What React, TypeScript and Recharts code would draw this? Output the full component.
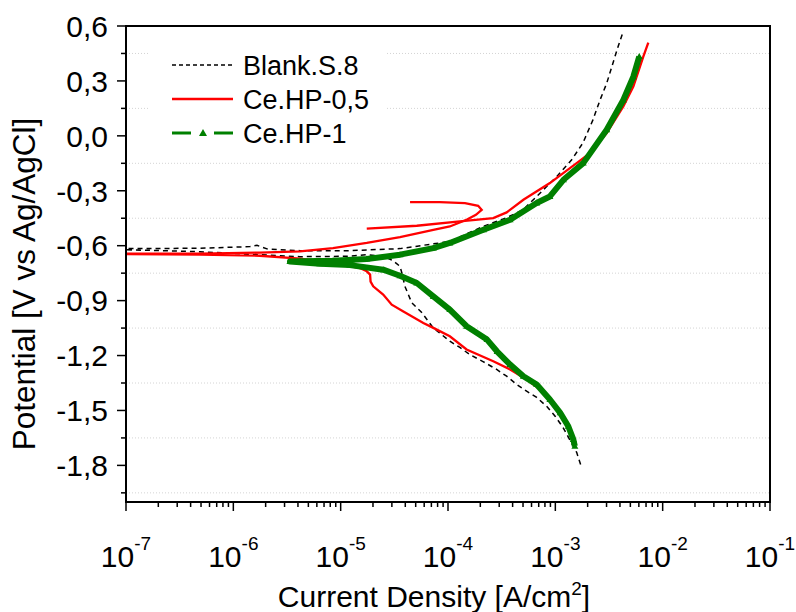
import React from 'react';
import { LineChart, Line, XAxis, YAxis, ReferenceLine, ReferenceArea, Legend, Label } from 'recharts';

const FONT = "Arial, 'Liberation Sans', Helvetica, sans-serif";

// Series names / colors
const seriesNames = ['Blank.S.8', 'Ce.HP-0,5', 'Ce.HP-1'];
const seriesColors = ['#000000', '#ff0000', '#008000'];

// Blank.S.8 (current density A/cm2, potential V)
const blankCurrent = [1.72e-3, 1.58e-3, 1.18e-3, 1.0e-3, 8.3e-4, 6.7e-4, 5.4e-4, 4.37e-4, 3.52e-4, 2.84e-4, 2.12e-4, 1.6e-4, 1.29e-4, 1.04e-4, 7.24e-5, 5.69e-5, 4.59e-5, 3.97e-5, 3.71e-5, 3.57e-5, 3.08e-5, 2.48e-5, 1.75e-5, 1.14e-5, 4.18e-6, 2.72e-6, 4.89e-7, 1.0e-7, 1.02e-7, 4.89e-7, 1.43e-6, 1.66e-6, 2.1e-6, 4.18e-6, 1.22e-5, 3.57e-5, 1.04e-4, 2.12e-4, 3.52e-4, 5.0e-4, 6.7e-4, 1.03e-3, 1.42e-3, 1.81e-3, 2.24e-3, 2.61e-3, 3.01e-3, 3.44e-3, 3.84e-3, 4.25e-3];
const blankPotential = [-1.795, -1.729, -1.593, -1.533, -1.477, -1.429, -1.395, -1.358, -1.313, -1.276, -1.233, -1.195, -1.156, -1.122, -1.047, -0.965, -0.911, -0.822, -0.747, -0.713, -0.682, -0.657, -0.649, -0.658, -0.66, -0.655, -0.633, -0.622, -0.616, -0.614, -0.605, -0.598, -0.619, -0.627, -0.627, -0.616, -0.577, -0.495, -0.447, -0.404, -0.331, -0.222, -0.131, -0.038, 0.087, 0.196, 0.287, 0.397, 0.487, 0.563];

// Ce.HP-0,5 first scan part (cathodic + anodic loop)
const redCurrent = [1.56e-3, 1.31e-3, 1.11e-3, 9.5e-4, 7.2e-4, 5.4e-4, 3.79e-4, 2.64e-4, 1.49e-4, 1.04e-4, 7.3e-5, 5.89e-5, 3.84e-5, 2.99e-5, 2.49e-5, 2.01e-5, 1.9e-5, 1.88e-5, 1.75e-5, 1.51e-5, 8.5e-6, 4.18e-6, 1.77e-6, 4.89e-7, 1.0e-7, 1.02e-7, 4.89e-7, 1.77e-6, 4.18e-6, 8.48e-6, 1.75e-5, 3.57e-5, 7.3e-5, 1.04e-4, 1.49e-4, 1.82e-4, 2.06e-4, 1.91e-4, 1.44e-4, 8.4e-5, 4.43e-5];
const redPotential = [-1.685, -1.587, -1.511, -1.467, -1.385, -1.331, -1.276, -1.231, -1.167, -1.095, -1.049, -1.022, -0.96, -0.922, -0.867, -0.822, -0.796, -0.758, -0.74, -0.722, -0.694, -0.671, -0.655, -0.649, -0.646, -0.644, -0.644, -0.638, -0.631, -0.613, -0.585, -0.553, -0.513, -0.495, -0.458, -0.431, -0.404, -0.382, -0.368, -0.362, -0.362];
// Ce.HP-0,5 second part (upper anodic branch)
const red2Current = [1.75e-5, 5.12e-5, 1.29e-4, 2.64e-4, 3.52e-4, 5.04e-4, 8.9e-4, 1.58e-3, 2.1e-3, 3.01e-3, 4.3e-3, 5.33e-3, 6.6e-3, 7.35e-3];
const red2Potential = [-0.507, -0.491, -0.467, -0.449, -0.418, -0.349, -0.258, -0.149, -0.094, 0.015, 0.16, 0.269, 0.433, 0.509];

// Ce.HP-1
const greenCurrent = [1.52e-3, 1.47e-3, 1.32e-3, 1.11e-3, 8.9e-4, 6.7e-4, 5.04e-4, 3.79e-4, 2.87e-4, 2.31e-4, 1.49e-4, 1.04e-4, 7.3e-5, 5.12e-5, 3.57e-5, 2.49e-5, 1.22e-5, 6.4e-6, 3.37e-6, 4.18e-6, 8.48e-6, 1.75e-5, 3.57e-5, 7.3e-5, 1.04e-4, 2.14e-4, 3.79e-4, 6.7e-4, 8.9e-4, 1.19e-3, 1.82e-3, 3.01e-3, 4.3e-3, 5.33e-3, 6.05e-3];
const greenPotential = [-1.695, -1.658, -1.586, -1.513, -1.44, -1.358, -1.313, -1.249, -1.178, -1.113, -1.04, -0.949, -0.877, -0.804, -0.764, -0.731, -0.706, -0.698, -0.687, -0.685, -0.682, -0.673, -0.649, -0.613, -0.585, -0.513, -0.458, -0.367, -0.331, -0.24, -0.149, 0.033, 0.196, 0.323, 0.433];

// Axis ticks
const xDecades = [-7, -6, -5, -4, -3, -2, -1];
const xMinorMultipliers = [2, 3, 4, 5, 6, 7, 8, 9];
const yMajorTicks = [0.6, 0.3, 0, -0.3, -0.6, -0.9, -1.2, -1.5, -1.8];
const yMinorTicks = [0.45, 0.15, -0.15, -0.45, -0.75, -1.05, -1.35, -1.65, -1.95];

const xTicks: number[] = [];
xDecades.forEach((e, k) => {
  xTicks.push(Number('1e' + e));
  if (k < xDecades.length - 1) xMinorMultipliers.forEach((m) => xTicks.push(Number(m + 'e' + e)));
});
const yTicks = [...yMajorTicks, ...yMinorTicks].sort((a, b) => a - b);

const zip = (xs: number[], ys: number[]) => xs.map((v, k) => ({ i: v, E: ys[k] }));
const blankData = zip(blankCurrent, blankPotential);
const redData = zip(redCurrent, redPotential);
const red2Data = zip(red2Current, red2Potential);
const greenData = zip(greenCurrent, greenPotential);

const XTick = (props: any) => {
  const { x, y, payload } = props;
  const v = payload.value;
  const lg = Math.log10(v);
  const e = Math.round(lg);
  const major = Math.abs(lg - e) < 1e-6;
  return (
    <g>
      <line x1={x} x2={x} y1={y} y2={y + (major ? 9 : 5)} stroke="#000" strokeWidth={1.5} />
      {major && (
        <text x={x} y={y + 65} textAnchor="middle" fontFamily={FONT} fontSize={30} fill="#000">
          10<tspan dy={-17} fontSize={19}>{e}</tspan>
        </text>
      )}
    </g>
  );
};

const YTick = (props: any) => {
  const { x, y, payload } = props;
  const v = payload.value;
  const major = yMajorTicks.some((t) => Math.abs(t - v) < 1e-6);
  return (
    <g>
      <line x1={x} x2={x - (major ? 9 : 5)} y1={y} y2={y} stroke="#000" strokeWidth={1.5} />
      {major && (
        <text x={x - 18} y={y} dy="0.36em" textAnchor="end" fontFamily={FONT} fontSize={30} fill="#000">
          {v.toFixed(1).replace('.', ',')}
        </text>
      )}
    </g>
  );
};

const Triangle = (props: any) => {
  const { cx, cy, index } = props;
  if (cx == null || cy == null) return <g key={'t' + index} />;
  return (
    <path key={'t' + index} d={`M${cx},${cy - 3.5} L${cx + 3.5},${cy + 2.5} L${cx - 3.5},${cy + 2.5} Z`} fill="#008000" />
  );
};

const renderLegend = () => {
  const rows = [25, 59, 93];
  return (
    <svg width={237} height={112} style={{ display: 'block' }}>
      <rect x={0} y={0} width={237} height={112} fill="#fff" />
      <line x1={24} x2={85} y1={rows[0]} y2={rows[0]} stroke={seriesColors[0]} strokeWidth={1.3} strokeDasharray="4 3" />
      <line x1={24} x2={85} y1={rows[1]} y2={rows[1]} stroke={seriesColors[1]} strokeWidth={2.5} />
      <line x1={24} x2={43} y1={rows[2]} y2={rows[2]} stroke={seriesColors[2]} strokeWidth={3} />
      <path d={`M55,${rows[2] - 4} L59,${rows[2] + 3} L51,${rows[2] + 3} Z`} fill={seriesColors[2]} />
      <line x1={66} x2={85} y1={rows[2]} y2={rows[2]} stroke={seriesColors[2]} strokeWidth={3} />
      {seriesNames.map((n, k) => (
        <text key={n} x={95} y={rows[k]} dy="0.36em" fontFamily={FONT} fontSize={27} fill="#000">
          {n}
        </text>
      ))}
    </svg>
  );
};

export default function App() {
  return (
    <div style={{ position: 'absolute', left: 0, top: 0, width: 796, height: 612, background: '#fff' }}>
      <LineChart width={796} height={612} margin={{ top: 26, right: 26, left: 0, bottom: 0 }}>
        <XAxis
          dataKey="i"
          type="number"
          scale="log"
          domain={[1e-7, 1e-1]}
          allowDataOverflow
          ticks={xTicks}
          interval={0}
          tick={<XTick />}
          tickLine={false}
          tickSize={0}
          tickMargin={0}
          height={110}
          axisLine={{ stroke: '#000', strokeWidth: 2 }}
        >
          <Label
            content={() => (
              <text x={434} y={607} textAnchor="middle" fontFamily={FONT} fontSize={30} fill="#000">
                Current Density [A/cm<tspan dy={-12} fontSize={19}>2</tspan>
                <tspan dy={12}>]</tspan>
              </text>
            )}
          />
        </XAxis>
        <YAxis
          type="number"
          domain={[-2.0, 0.6]}
          allowDataOverflow
          ticks={yTicks}
          interval={0}
          tick={<YTick />}
          tickLine={false}
          tickSize={0}
          tickMargin={0}
          width={126}
          axisLine={{ stroke: '#000', strokeWidth: 2 }}
        >
          <Label
            content={() => (
              <text transform="translate(35,284) rotate(-90)" textAnchor="middle" fontFamily={FONT} fontSize={31.5} fill="#000">
                Potential [V vs Ag/AgCl]
              </text>
            )}
          />
        </YAxis>
        {yMinorTicks.map((v) => (
          <ReferenceLine key={'g' + v} y={v} stroke="#d4d4d4" strokeWidth={1} strokeDasharray="1 2" />
        ))}
        <ReferenceArea x1={1e-7} x2={1e-1} y1={-2.0} y2={0.6} fill="none" stroke="#000" strokeWidth={2} />
        <Line
          data={blankData}
          dataKey="E"
          name={seriesNames[0]}
          stroke={seriesColors[0]}
          strokeWidth={1.5}
          strokeDasharray="5 4"
          dot={false}
          isAnimationActive={false}
        />
        <Line
          data={redData}
          dataKey="E"
          name={seriesNames[1]}
          stroke={seriesColors[1]}
          strokeWidth={2.3}
          dot={false}
          isAnimationActive={false}
        />
        <Line
          data={red2Data}
          dataKey="E"
          name={seriesNames[1] + ' '}
          legendType="none"
          stroke={seriesColors[1]}
          strokeWidth={2.3}
          dot={false}
          isAnimationActive={false}
        />
        <Line
          data={greenData}
          dataKey="E"
          name={seriesNames[2]}
          stroke={seriesColors[2]}
          strokeWidth={6}
          strokeLinejoin="round"
          dot={<Triangle />}
          isAnimationActive={false}
        />
        <Legend
          layout="vertical"
          align="center"
          verticalAlign="middle"
          content={renderLegend}
          wrapperStyle={{ position: 'absolute', left: 148, top: 40, width: 237, height: 112 }}
        />
      </LineChart>
    </div>
  );
}
